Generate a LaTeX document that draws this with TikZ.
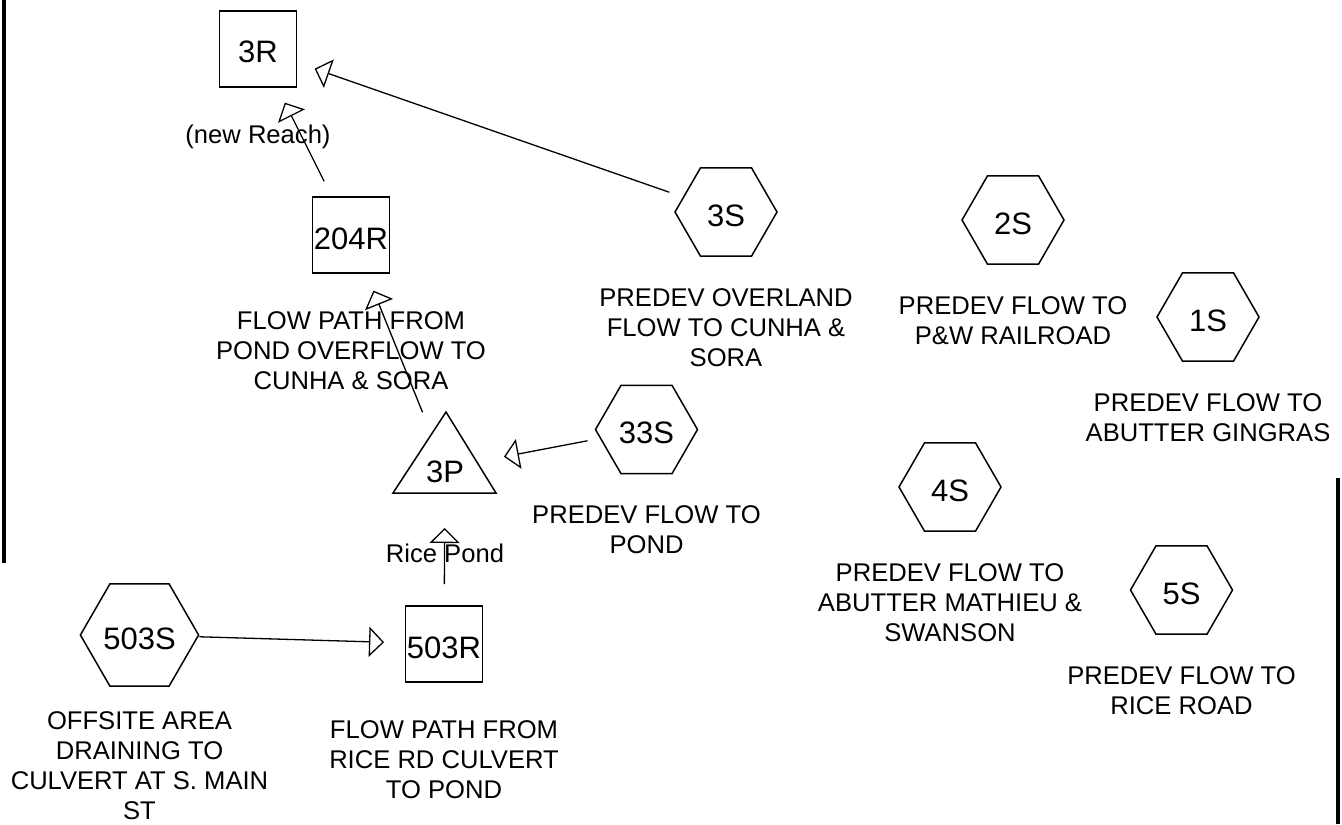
\documentclass[tikz,border=0pt]{standalone}
\usepackage{fontspec}
\setmainfont{Liberation Sans}
\usetikzlibrary{shapes.geometric,arrows.meta,calc}
\newcommand\desclines[1]{\begin{tabular}[t]{@{}c@{}}#1\end{tabular}}
\begin{document}
\begin{tikzpicture}[x=0.5pt,y=-0.5pt,
  hexnode/.style={draw, line width=0.75pt, regular polygon, regular polygon sides=6, minimum size=51pt, inner sep=0pt, outer sep=0pt, text height=14pt, text depth=0pt, font=\fontsize{15.5}{18}\selectfont},
  boxnode/.style={draw, line width=0.75pt, rectangle, minimum width=38.5pt, minimum height=38pt, inner sep=0pt, outer sep=0pt, text height=14pt, text depth=0pt, font=\fontsize{15.5}{18}\selectfont},
  plainnode/.style={inner sep=0pt, outer sep=0pt, text height=14pt, text depth=0pt, font=\fontsize{15.5}{18}\selectfont},
  desc/.style={anchor=base, inner sep=0pt, font=\fontsize{12.8}{15}\selectfont},
  flow/.style={line width=0.65pt, -{Triangle[open, length=7.5pt, width=15pt]}, shorten >=30pt, shorten <=30pt},
  border/.style={line width=1.6pt}
]
\useasboundingbox (0,0) rectangle (1342,824);

% borders
\coordinate (lt) at (4,0);
\coordinate (lb) at (4,563);
\draw[border] (lt) -- (lb);
\coordinate (rt) at (1338,478);
\coordinate (rb) at (1338,824);
\draw[border] (rt) -- (rb);

% nodes
\node[boxnode] (n3R) at (258,49) {3R};
\node[boxnode] (n204R) at (351,235) {204R};
\node[plainnode] (n3P) at (445,468) {3P};
\draw[line width=0.75pt, line join=miter] ($(n3P)+(1,-56)$) -- ($(n3P)+(-52,25)$) -- ($(n3P)+(51,25)$) -- cycle;
\node[boxnode] (n503R) at (444,644) {503R};
\node[hexnode] (n503S) at (139.5,635) {503S};
\node[hexnode] (n33S) at (646.5,429.5) {33S};
\node[hexnode] (n3S) at (726,212) {3S};
\node[hexnode] (n2S) at (1013,220) {2S};
\node[hexnode] (n1S) at (1208,317) {1S};
\node[hexnode] (n4S) at (950,487) {4S};
\node[hexnode] (n5S) at (1181.5,590) {5S};

% descriptions
\node[desc] (d3R) at ($(n3R)+(0,94)$) {\desclines{(new Reach)}};
\node[desc] (d204R) at ($(n204R)+(0,94)$) {\desclines{FLOW PATH FROM\\POND OVERFLOW TO\\CUNHA \& SORA}};
\node[desc] (d3P) at ($(n3P)+(0,94)$) {\desclines{Rice Pond}};
\node[desc] (d503R) at ($(n503R)+(0,94)$) {\desclines{FLOW PATH FROM\\RICE RD CULVERT\\TO POND}};
\node[desc] (d503S) at ($(n503S)+(0,94)$) {\desclines{OFFSITE AREA\\DRAINING TO\\CULVERT AT S. MAIN\\ST}};
\node[desc] (d33S) at ($(n33S)+(0,94)$) {\desclines{PREDEV FLOW TO\\POND}};
\node[desc] (d3S) at ($(n3S)+(0,94)$) {\desclines{PREDEV OVERLAND\\FLOW TO CUNHA \&\\SORA}};
\node[desc] (d2S) at ($(n2S)+(0,94)$) {\desclines{PREDEV FLOW TO\\P\&W RAILROAD}};
\node[desc] (d1S) at ($(n1S)+(0,94)$) {\desclines{PREDEV FLOW TO\\ABUTTER GINGRAS}};
\node[desc] (d4S) at ($(n4S)+(0,94)$) {\desclines{PREDEV FLOW TO\\ABUTTER MATHIEU \&\\SWANSON}};
\node[desc] (d5S) at ($(n5S)+(0,94)$) {\desclines{PREDEV FLOW TO\\RICE ROAD}};

% connectors
\draw[flow] (n3S.center) -- (n3R.center);
\draw[flow] (n204R.center) -- (n3R.center);
\draw[flow] (n3P.center) -- (n204R.center);
\draw[flow] (n33S.center) -- (n3P.center);
\draw[flow] (n503R.center) -- (n3P.center);
\draw[flow] (n503S.center) -- (n503R.center);
\end{tikzpicture}
\end{document}
